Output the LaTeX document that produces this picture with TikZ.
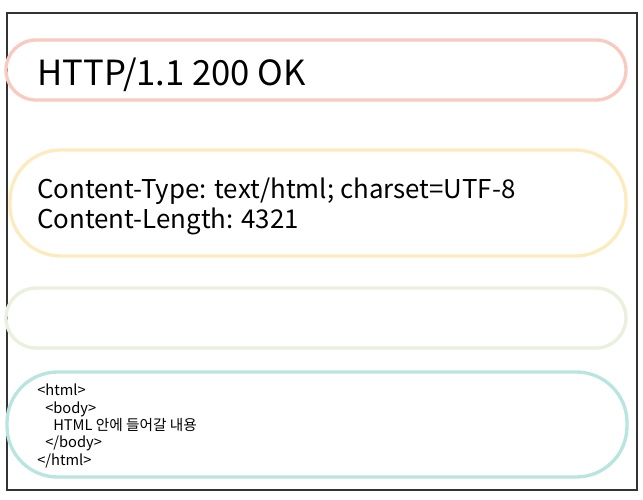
\documentclass[tikz,border=0pt]{standalone}
\usepackage{fontspec}
\setmainfont{Noto Sans CJK KR}
\definecolor{pillpink}{HTML}{F9CABF}
\definecolor{pillyellow}{HTML}{FDEBC0}
\definecolor{pillgreen}{HTML}{E9F0DC}
\definecolor{pillteal}{HTML}{B8E5DF}
\definecolor{framegray}{HTML}{333333}
\tikzset{
  pill/.style={draw, line width=2.5pt, inner sep=0pt},
  msgtext/.style={anchor=base west, inner sep=0pt, align=left}
}
\begin{document}
\begin{tikzpicture}[x=0.75pt,y=0.75pt,yscale=-1,xscale=1]
    \useasboundingbox (0,0) rectangle (643,500);
    %Outer frame
    \draw[framegray, line width=1.5pt] (7,13) rectangle (637,490);
    %Status line
    \draw[pill, pillpink, rounded corners=22.5pt] (6,40) rectangle (626,100);
    %Headers
    \draw[pill, pillyellow, rounded corners=38pt] (10,150) rectangle (626,256);
    %Blank line
    \draw[pill, pillgreen, rounded corners=22.5pt] (6,288) rectangle (626,348);
    %Body
    \draw[pill, pillteal, rounded corners=38pt] (7,372) rectangle (627,477);
    
    \node[msgtext, font=\fontsize{26}{30}\selectfont] (status) at (37,85) {HTTP/1.1 200 OK};
    \node[msgtext, font=\fontsize{19.4}{22.5}\selectfont] (headers) at (37,228)
      {Content-Type: text/html; charset=UTF-8\\Content-Length: 4321};
    \node[msgtext, font=\fontsize{11}{13}\selectfont] (body) at (37,465)
      {<html>\\\hspace*{6pt}<body>\\\hspace*{12pt}HTML 안에 들어갈 내용\\\hspace*{6pt}</body>\\</html>};
\end{tikzpicture}
\end{document}
